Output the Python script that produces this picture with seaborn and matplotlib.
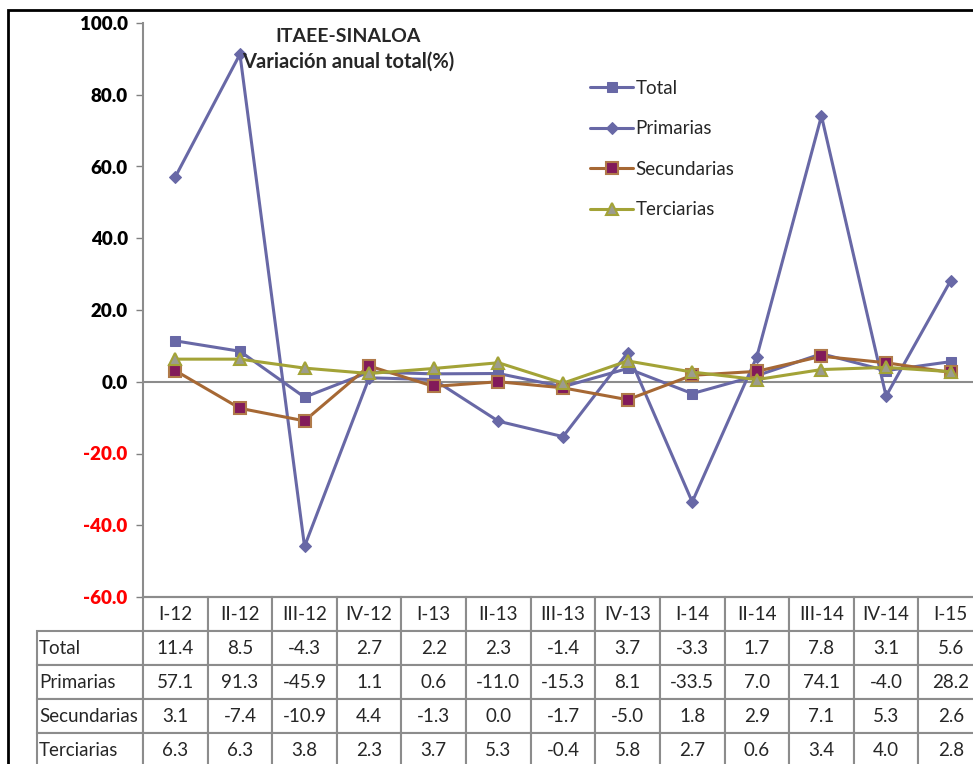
import matplotlib
matplotlib.use("Agg")
import matplotlib.pyplot as plt
import matplotlib.patches as mpatches
import seaborn as sns
import numpy as np

quarters = ["I-12", "II-12", "III-12", "IV-12", "I-13", "II-13", "III-13",
            "IV-13", "I-14", "II-14", "III-14", "IV-14", "I-15"]
total = [11.4, 8.5, -4.3, 2.7, 2.2, 2.3, -1.4, 3.7, -3.3, 1.7, 7.8, 3.1, 5.6]
primarias = [57.1, 91.3, -45.9, 1.1, 0.6, -11.0, -15.3, 8.1, -33.5, 7.0, 74.1, -4.0, 28.2]
secundarias = [3.1, -7.4, -10.9, 4.4, -1.3, 0.0, -1.7, -5.0, 1.8, 2.9, 7.1, 5.3, 2.6]
terciarias = [6.3, 6.3, 3.8, 2.3, 3.7, 5.3, -0.4, 5.8, 2.7, 0.6, 3.4, 4.0, 2.8]
series_names = ["Total", "Primarias", "Secundarias", "Terciarias"]
yticks = [-60, -40, -20, 0, 20, 40, 60, 80, 100]

sns.set_style("white")
plt.rcParams['font.family'] = ['Lato', 'DejaVu Sans']

W, H = 973, 764
fig = plt.figure(figsize=(W / 100, H / 100), dpi=100)
ax_l, ax_r, ax_t, ax_b = 143, 983, 23, 597
ax = fig.add_axes([ax_l / W, 1 - ax_b / H, (ax_r - ax_l) / W, (ax_b - ax_t) / H])

x = np.arange(len(quarters))
blue = "#6868A6"
brown = "#A66834"
olive = "#A3A337"

styles = [
    dict(color=blue, marker="s", markersize=7, markerfacecolor=blue, markeredgecolor=blue),
    dict(color=blue, marker="D", markersize=6, markerfacecolor=blue, markeredgecolor=blue),
    dict(color=brown, marker="s", markersize=8, markerfacecolor="#821A5A", markeredgecolor="#B07A4A", markeredgewidth=1.5),
    dict(color=olive, marker="^", markersize=9, markerfacecolor="#9C9C8E", markeredgecolor=olive, markeredgewidth=1.5),
]
for name, vals, st in zip(series_names, [total, primarias, secundarias, terciarias], styles):
    sns.lineplot(x=x, y=vals, ax=ax, label=name, linewidth=2.2, **st)

ax.set_xlim(-0.5, len(quarters) - 0.5)
ax.set_ylim(-60, 100)
ax.set_yticks(yticks)
ax.set_yticklabels([f"{v:.1f}" for v in yticks])
for lab, v in zip(ax.get_yticklabels(), yticks):
    lab.set_color("red" if v < 0 else "black")
    lab.set_fontweight("heavy")
    lab.set_fontsize(13.5)
ax.tick_params(axis="y", direction="out", length=5, width=1, color="#808080", pad=6, left=True)
ax.set_xticks([])
ax.axhline(0, color="#8C8C8C", lw=1.5, zorder=1)
for s in ["top", "right"]:
    ax.spines[s].set_visible(False)
for s in ["left", "bottom"]:
    ax.spines[s].set_color("#8C8C8C")
    ax.spines[s].set_linewidth(1.5)
ax.set_xlabel("")
ax.set_ylabel("")

# legend
leg = ax.legend(loc="upper left", bbox_to_anchor=(590 / W, 1 - 80 / H),
                bbox_transform=fig.transFigure, frameon=False, fontsize=13.5,
                handlelength=2.3, handletextpad=0.12, labelspacing=1.25,
                borderpad=0, borderaxespad=0)

# title
fig.text(348 / W, 1 - 37 / H, "ITAEE-SINALOA", ha="center", va="center",
         fontsize=14, fontweight="bold")
fig.text(348 / W, 1 - 62 / H, "Variación anual total(%)", ha="center", va="center",
         fontsize=14.5, fontweight="bold")

# data table
label_w = 106
col_w = (ax_r - ax_l) / len(quarters)
row_h = 34
nrows = 5
cell_text = [[""] + quarters]
for name, vals in zip(series_names, [total, primarias, secundarias, terciarias]):
    cell_text.append([name] + [f"{v:.1f}" for v in vals])
total_w = label_w + col_w * len(quarters)
colWidths = [label_w / total_w] + [col_w / total_w] * len(quarters)
axw = ax_r - ax_l
axh = ax_b - ax_t
tbl = ax.table(cellText=cell_text, colWidths=colWidths, cellLoc="center",
               bbox=[-label_w / axw, -(row_h * nrows) / axh, total_w / axw, (row_h * nrows) / axh])
tbl.auto_set_font_size(False)
tbl.set_fontsize(13.5)
for (r, c), cell in tbl.get_celld().items():
    cell.set_edgecolor("#8C8C8C")
    cell.set_linewidth(1.5)
    cell.get_text().set_fontsize(13.5)
    if c == 0:
        cell.get_text().set_ha("left")
        cell.PAD = 0.02
        cell._loc = "left"
    if r == 0 and c == 0:
        cell.set_visible(False)

# outer border
fig.add_artist(mpatches.Rectangle((8 / W, -0.05), 1.1, 1.05 - 10 / H,
                                  transform=fig.transFigure, fill=False,
                                  edgecolor="black", lw=2))

fig.savefig("out.png", dpi=100)
